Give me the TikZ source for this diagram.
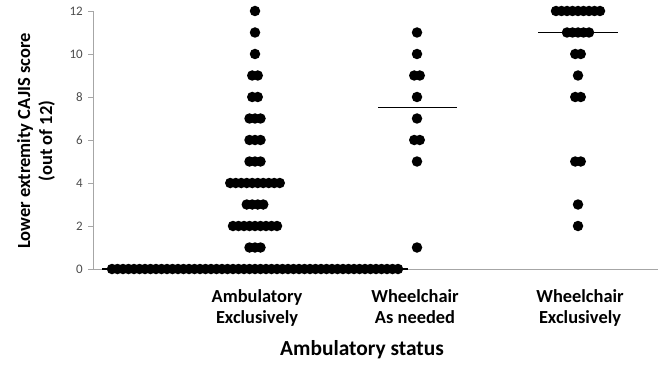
\documentclass[tikz,border=0pt]{standalone}
\usepackage{fontspec}
\setmainfont{Carlito}
\tikzset{
    scoredot/.style={fill=black},
    axisline/.style={draw=black!35, line width=0.8bp},
    medianline/.style={draw=black, line width=1.2bp},
    ticklabel/.style={anchor=east, text=black!70, inner sep=1bp, font=\fontsize{13bp}{15bp}\selectfont},
    catlabel/.style={align=center, font=\bfseries\fontsize{18.4bp}{21bp}\selectfont},
    axistitle/.style={align=center, font=\bfseries\fontsize{21.4bp}{24bp}\selectfont},
}
% one row of dots: column centre, score, number of dots
\newcommand{\dotrow}[3]{%
    \foreach \k in {1,...,#3}
        \fill[scoredot] ({#1+(\k-0.5-#3/2)*5.5}, #2) circle (5.25bp);
}

\begin{document}
\begin{tikzpicture}[x=1bp,y=1bp]
    \useasboundingbox (0,0) rectangle (667,367);

    \begin{scope}[shift={(93,98)}, y=21.5bp]
    % axes
    \draw[axisline] (0,12) -- (0,0) -- (565,0);
    \foreach \v in {0,2,...,12} {
        \draw[axisline] (-5,\v) -- (0,\v);
        \node[ticklabel] (tick\v) at (-9,\v) {\v};
    }

    % medians
    \draw[medianline] (9,0) -- (315,0);
    \draw[medianline] (285,7.5) -- (364,7.5);
    \draw[medianline] (445,11) -- (525,11);

    % Ambulatory exclusively
    \dotrow{162}{12}{1}
    \dotrow{162}{11}{1}
    \dotrow{162}{10}{1}
    \dotrow{162}{9}{2}
    \dotrow{162}{8}{2}
    \dotrow{162}{7}{3}
    \dotrow{162}{6}{3}
    \dotrow{162}{5}{3}
    \dotrow{162}{4}{10}
    \dotrow{162}{3}{4}
    \dotrow{162}{2}{9}
    \dotrow{162}{1}{3}
    \dotrow{162}{0}{53}

    % Wheelchair as needed
    \dotrow{324}{11}{1}
    \dotrow{324}{10}{1}
    \dotrow{324}{9}{2}
    \dotrow{324}{8}{1}
    \dotrow{324}{7}{1}
    \dotrow{324}{6}{2}
    \dotrow{324}{5}{1}
    \dotrow{324}{1}{1}

    % Wheelchair exclusively
    \dotrow{485}{12}{9}
    \dotrow{485}{11}{5}
    \dotrow{485}{10}{2}
    \dotrow{485}{9}{1}
    \dotrow{485}{8}{2}
    \dotrow{485}{5}{2}
    \dotrow{485}{3}{1}
    \dotrow{485}{2}{1}
    \end{scope}

    \node[catlabel] (ambex) at (257,58) {\strut Ambulatory\\\strut Exclusively};
    \node[catlabel] (whneed) at (415,58) {\strut Wheelchair\\\strut As needed};
    \node[catlabel] (whex) at (580,58) {\strut Wheelchair\\\strut Exclusively};
    \node[axistitle] (xtitle) at (362,17) {Ambulatory status};
    \node[axistitle, rotate=90, font=\bfseries\fontsize{18.5bp}{22bp}\selectfont] (ytitle) at (36,226) {Lower extremity CAJIS score\\(out of 12)};
\end{tikzpicture}
\end{document}
